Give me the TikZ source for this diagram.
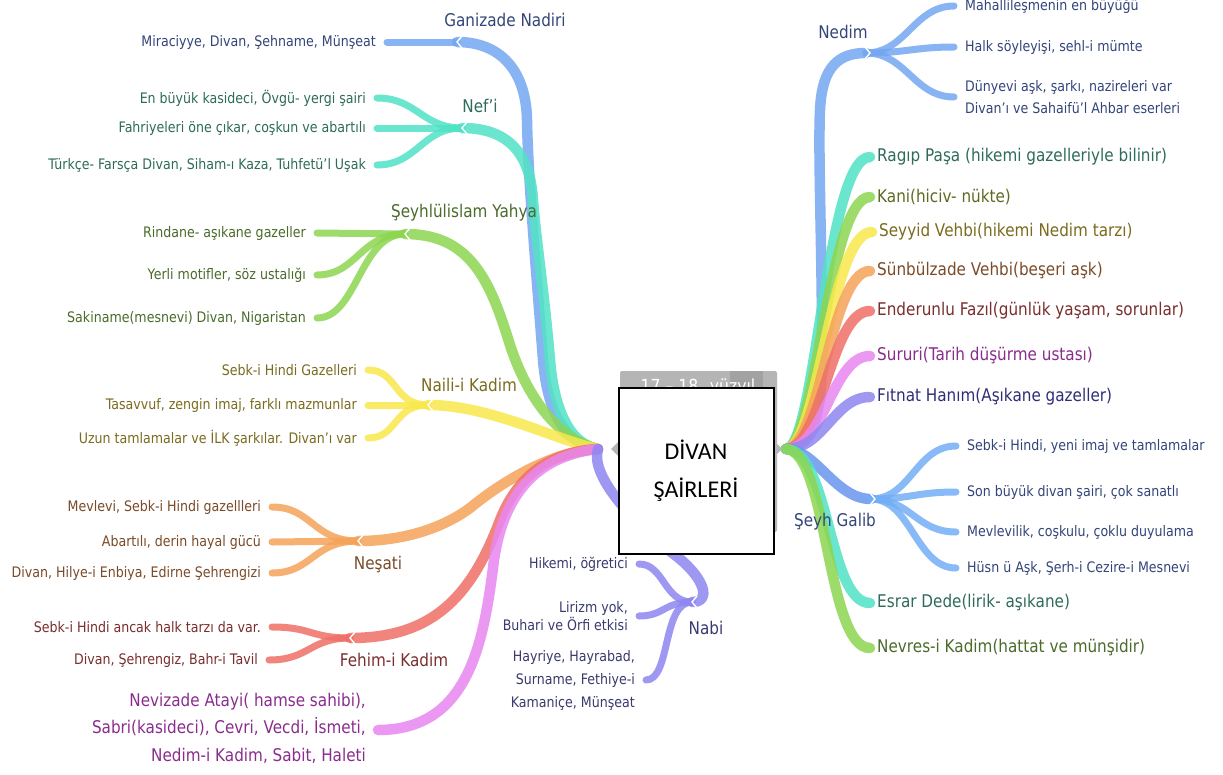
\documentclass[tikz,border=0pt]{standalone}
\usepackage{fontspec}
\setmainfont{DejaVu Sans}[FakeStretch=0.87]
\newfontfamily\boxfont{Carlito}
\pgfdeclarelayer{bg}
\pgfsetlayers{bg,main}
\definecolor{cBlue}{HTML}{74A7F2}
\definecolor{cTurq}{HTML}{52E2C6}
\definecolor{cGreen}{HTML}{8CD650}
\definecolor{cYellow}{HTML}{F8E84C}
\definecolor{cOrange}{HTML}{F5A35A}
\definecolor{cRed}{HTML}{EF7068}
\definecolor{cPink}{HTML}{E887F0}
\definecolor{cPurple}{HTML}{8F86F2}
\definecolor{cGalib}{HTML}{6A96EE}
\definecolor{cGalibL}{HTML}{72AEF5}
\definecolor{tBlue}{HTML}{34457A}
\definecolor{tTurq}{HTML}{2E6B5B}
\definecolor{tGreen}{HTML}{4B6B2B}
\definecolor{tOlive}{HTML}{5E6A22}
\definecolor{tYellow}{HTML}{7A6B1E}
\definecolor{tOrange}{HTML}{7A4B28}
\definecolor{tRed}{HTML}{7A2E2E}
\definecolor{tPink}{HTML}{8A2C8E}
\definecolor{tPurple}{HTML}{3A3A6E}
\definecolor{tFitnat}{HTML}{2E2E78}
\definecolor{boxgray}{HTML}{B5B5B5}
\definecolor{boxgrayd}{HTML}{A2A2A2}
\newcommand\leafsize{\fontsize{14.5}{18}\selectfont}
\newcommand\labsize{\fontsize{17.5}{21}\selectfont}
\begin{document}
\begin{tikzpicture}[x=1pt,y=-1pt,
  br/.style={line width=10.5pt,line cap=round,draw opacity=0.85},
  lf/.style={line width=7pt,line cap=round,draw opacity=0.85},
  leafL/.style={anchor=east,align=right,inner sep=0pt,font=\leafsize},
  leafR/.style={anchor=west,align=left,inner sep=0pt,font=\leafsize},
  labnode/.style={inner sep=0pt,font=\labsize},
  singleR/.style={anchor=west,inner sep=0pt,font=\labsize},
  notch/.style={white,line width=1.4pt}]
\useasboundingbox (0,0) rectangle (1223,774);
% junctions
\coordinate (L) at (598,449);
\coordinate (jG) at (457,42);
\coordinate (jN) at (462,128);
\coordinate (jY) at (405,234);
\coordinate (jNa) at (428,405);
\coordinate (jNe) at (358,541);
\coordinate (jF) at (350,638);
\coordinate (pEnd) at (378,730);
\coordinate (jNb) at (692,602);
\coordinate (R) at (786,449);
\coordinate (jNd) at (866,53);
\coordinate (jSg) at (871,499);
% ---------- left labels
\node[labnode,text=tBlue] (gN) at (505,20) {Ganizade Nadiri};
\node[leafL,text=tBlue] (lG) at (376,42) {Miraciyye, Divan, Şehname, Münşeat};
\node[labnode,text=tTurq] (nN) at (480,106) {Nef'i};
\node[leafL,text=tTurq] (lN1) at (366,98) {En büyük kasideci, Övgü- yergi şairi};
\node[leafL,text=tTurq] (lN2) at (366,128) {Fahriyeleri öne çıkar, coşkun ve abartılı};
\node[leafL,text=tTurq] (lN3) at (366,165) {Türkçe- Farsça Divan, Siham-ı Kaza, Tuhfetü'l Uşak};
\node[labnode,text=tGreen] (yN) at (464,213) {Şeyhlülislam Yahya};
\node[leafL,text=tGreen] (lY1) at (306,233) {Rindane- aşıkane gazeller};
\node[leafL,text=tGreen] (lY2) at (306,275) {Yerli motifler, söz ustalığı};
\node[leafL,text=tGreen] (lY3) at (306,318) {Sakiname(mesnevi) Divan, Nigaristan};
\node[labnode,text=tYellow] (naN) at (469,385) {Naili-i Kadim};
\node[leafL,text=tYellow] (lNa1) at (357,370) {Sebk-i Hindi Gazelleri};
\node[leafL,text=tYellow] (lNa2) at (357,405) {Tasavvuf, zengin imaj, farklı mazmunlar};
\node[leafL,text=tYellow] (lNa3) at (357,438) {Uzun tamlamalar ve İLK şarkılar. Divan'ı var};
\node[labnode,text=tOrange] (neN) at (378,565) {Neşati};
\node[leafL,text=tOrange] (lNe1) at (261,507) {Mevlevi, Sebk-i Hindi gazellleri};
\node[leafL,text=tOrange] (lNe2) at (261,542) {Abartılı, derin hayal gücü};
\node[leafL,text=tOrange] (lNe3) at (261,573) {Divan, Hilye-i Enbiya, Edirne Şehrengizi};
\node[labnode,text=tRed] (fN) at (394,660) {Fehim-i Kadim};
\node[leafL,text=tRed] (lF1) at (261,627) {Sebk-i Hindi ancak halk tarzı da var.};
\node[leafL,text=tRed] (lF2) at (258,660) {Divan, Şehrengiz, Bahr-i Tavil};
\node[leafL,text=tPink,font=\fontsize{17.5}{27.5}\selectfont] (pN) at (366,728) {Nevizade Atayi( hamse sahibi),\\Sabri(kasideci), Cevri, Vecdi, İsmeti,\\Nedim-i Kadim, Sabit, Haleti};
\node[labnode,text=tPurple] (nbN) at (706,628) {Nabi};
\node[leafL,text=tPurple] (lNb1) at (628,564) {Hikemi, öğretici};
\node[leafL,text=tPurple,font=\fontsize{14.5}{18.5}\selectfont] (lNb2) at (628,616) {Lirizm yok,\\Buhari ve Örfi etkisi};
\node[leafL,text=tPurple,font=\fontsize{14.5}{23}\selectfont] (lNb3) at (635,680) {Hayriye, Hayrabad,\\Surname, Fethiye-i\\Kamaniçe, Münşeat};
% ---------- right labels
\node[labnode,text=tBlue] (ndN) at (843,32) {Nedim};
\node[leafR,text=tBlue] (lNd1) at (965,6) {Mahallileşmenin en büyüğü};
\node[leafR,text=tBlue] (lNd2) at (965,47) {Halk söyleyişi, sehl-i mümte};
\node[leafR,text=tBlue,font=\fontsize{14.5}{22}\selectfont] (lNd3) at (965,97) {Dünyevi aşk, şarkı, nazireleri var\\Divan'ı ve Sahaifü'l Ahbar eserleri};
\node[singleR,text=tTurq] (sRg) at (877,157) {Ragıp Paşa (hikemi gazelleriyle bilinir)};
\node[singleR,text=tOlive] (sKa) at (877,197) {Kani(hiciv- nükte)};
\node[singleR,text=tYellow] (sSe) at (879,232) {Seyyid Vehbi(hikemi Nedim tarzı)};
\node[singleR,text=tOrange] (sSu) at (877,271) {Sünbülzade Vehbi(beşeri aşk)};
\node[singleR,text=tRed] (sEn) at (877,311) {Enderunlu Fazıl(günlük yaşam, sorunlar)};
\node[singleR,text=tPink] (sSr) at (877,356) {Sururi(Tarih düşürme ustası)};
\node[singleR,text=tFitnat] (sFi) at (877,397) {Fıtnat Hanım(Aşıkane gazeller)};
\node[labnode,text=tBlue] (sgN) at (835,522) {Şeyh Galib};
\node[leafR,text=tBlue] (g1) at (967,446) {Sebk-i Hindi, yeni imaj ve tamlamalar};
\node[leafR,text=tBlue] (g2) at (967,492) {Son büyük divan şairi, çok sanatlı};
\node[leafR,text=tBlue] (g3) at (967,532) {Mevlevilik, coşkulu, çoklu duyulama};
\node[leafR,text=tBlue] (g4) at (967,568) {Hüsn ü Aşk, Şerh-i Cezire-i Mesnevi};
\node[singleR,text=tTurq] (sEs) at (877,603) {Esrar Dede(lirik- aşıkane)};
\node[singleR,text=tGreen] (sNv) at (877,648) {Nevres-i Kadim(hattat ve münşidir)};
% ---------- branches
\begin{pgfonlayer}{bg}
\fill[white] (0,0) rectangle (1223,774);
% left main branches
\draw[br,cBlue] (L) .. controls (570,445) and (548,420) .. (543,360) .. controls (537,280) and (528,180) .. (527,120) .. controls (526,70) and (500,42) .. (jG);
\draw[br,cTurq] (L) .. controls (575,445) and (555,420) .. (550,360) .. controls (544,290) and (536,240) .. (533,200) .. controls (530,150) and (505,128) .. (jN);
\draw[br,cGreen] (L) .. controls (560,440) and (528,400) .. (510,345) .. controls (490,280) and (470,234) .. (jY);
\draw[br,cYellow] (L) .. controls (555,440) and (490,405) .. (jNa);
\draw[br,cOrange] (L) .. controls (560,450) and (510,475) .. (470,508) .. controls (440,530) and (400,541) .. (jNe);
\draw[br,cRed] (L) .. controls (555,452) and (520,470) .. (500,520) .. controls (470,600) and (430,638) .. (jF);
\draw[br,cPink] (L) .. controls (545,455) and (505,485) .. (494,560) .. controls (484,640) and (470,730) .. (pEnd);
\draw[br,cPurple] (L) .. controls (590,475) and (630,520) .. (675,555) .. controls (705,578) and (712,602) .. (jNb);
% left leaves
\draw[lf,cBlue] (jG) -- ([xshift=11pt]lG.east);
\draw[lf,cTurq] (jN) .. controls +(-40,0) and +(40,0) .. ([xshift=11pt]lN1.east);
\draw[lf,cTurq] (jN) -- ([xshift=11pt]lN2.east);
\draw[lf,cTurq] (jN) .. controls +(-40,0) and +(40,0) .. ([xshift=11pt]lN3.east);
\draw[lf,cGreen] (jY) -- ([xshift=11pt]lY1.east);
\draw[lf,cGreen] (jY) .. controls +(-45,0) and +(40,0) .. ([xshift=11pt]lY2.east);
\draw[lf,cGreen] (jY) .. controls +(-45,0) and +(40,0) .. ([xshift=11pt]lY3.east);
\draw[lf,cYellow] (jNa) .. controls +(-35,0) and +(30,0) .. ([xshift=11pt]lNa1.east);
\draw[lf,cYellow] (jNa) -- ([xshift=11pt]lNa2.east);
\draw[lf,cYellow] (jNa) .. controls +(-35,0) and +(30,0) .. ([xshift=11pt]lNa3.east);
\draw[lf,cOrange] (jNe) .. controls +(-45,0) and +(40,0) .. ([xshift=11pt]lNe1.east);
\draw[lf,cOrange] (jNe) -- ([xshift=11pt]lNe2.east);
\draw[lf,cOrange] (jNe) .. controls +(-45,0) and +(40,0) .. ([xshift=11pt]lNe3.east);
\draw[lf,cRed] (jF) .. controls +(-40,0) and +(40,0) .. ([xshift=11pt]lF1.east);
\draw[lf,cRed] (jF) .. controls +(-40,0) and +(40,0) .. ([xshift=11pt]lF2.east);
\draw[lf,cPurple] (jNb) .. controls +(-28,0) and +(25,0) .. ([xshift=11pt]lNb1.east);
\draw[lf,cPurple] (jNb) .. controls +(-28,0) and +(25,0) .. ([xshift=11pt]lNb2.east);
\draw[lf,cPurple] (jNb) .. controls +(-30,0) and +(25,0) .. ([xshift=11pt]lNb3.east);
% right branches
\draw[br,cBlue] (R) .. controls (815,445) and (822,420) .. (822,340) .. controls (822,250) and (818,150) .. (820,110) .. controls (822,65) and (840,53) .. (jNd);
\draw[br,cTurq] (R) .. controls +(30,0) and +(-44,0) .. ([xshift=-7pt]sRg.west);
\draw[br,cGreen] (R) .. controls +(30,0) and +(-42,0) .. ([xshift=-7pt]sKa.west);
\draw[br,cYellow] (R) .. controls +(32,0) and +(-42,0) .. ([xshift=-7pt]sSe.west);
\draw[br,cOrange] (R) .. controls +(34,0) and +(-40,0) .. ([xshift=-7pt]sSu.west);
\draw[br,cRed] (R) .. controls +(36,0) and +(-40,0) .. ([xshift=-7pt]sEn.west);
\draw[br,cPink] (R) .. controls +(38,0) and +(-38,0) .. ([xshift=-7pt]sSr.west);
\draw[br,cPurple] (R) .. controls +(38,0) and +(-36,0) .. ([xshift=-7pt]sFi.west);
\draw[br,cGalib] (R) .. controls +(30,0) and +(-36,0) .. (jSg);
\draw[br,cTurq] (R) .. controls +(44,2) and +(-42,0) .. ([xshift=-7pt]sEs.west);
\draw[br,cGreen] (R) .. controls +(42,2) and +(-44,0) .. ([xshift=-7pt]sNv.west);
% right leaves
\draw[lf,cBlue] (jNd) .. controls +(40,0) and +(-40,0) .. ([xshift=-11pt]lNd1.west);
\draw[lf,cBlue] (jNd) .. controls +(40,0) and +(-40,0) .. ([xshift=-11pt]lNd2.west);
\draw[lf,cBlue] (jNd) .. controls +(40,0) and +(-40,0) .. ([xshift=-11pt]lNd3.west);
\draw[lf,cGalibL] (jSg) .. controls +(40,0) and +(-40,0) .. ([xshift=-11pt]g1.west);
\draw[lf,cGalibL] (jSg) .. controls +(40,0) and +(-40,0) .. ([xshift=-11pt]g2.west);
\draw[lf,cGalibL] (jSg) .. controls +(40,0) and +(-40,0) .. ([xshift=-11pt]g3.west);
\draw[lf,cGalibL] (jSg) .. controls +(40,0) and +(-40,0) .. ([xshift=-11pt]g4.west);
% notches
\foreach \j in {jG,jN,jY,jNa,jNe,jF,jNb}{
  \draw[notch] ([shift={(5,-6)}]\j) -- (\j) -- ([shift={(5,6)}]\j);}
\foreach \j in {jNd,jSg}{
  \draw[notch] ([shift={(-1,-6)}]\j) -- ([shift={(4,0)}]\j) -- ([shift={(-1,6)}]\j);}
\end{pgfonlayer}
% ---------- centre box
\fill[boxgray,rounded corners=2pt] (620,371) rectangle (777,532);
\fill[boxgrayd] (730,371) rectangle (763,389);
\node[inner sep=0pt,text=white,font=\fontsize{18}{20}\selectfont] (yz) at (698,388) {17 – 18. yüzyıl};
\fill[boxgray] (618,442) -- (611,449) -- (618,456) -- cycle;
\fill[boxgray] (775,442) -- (782,449) -- (775,456) -- cycle;
\node[draw=black,line width=2pt,fill=white,minimum width=155pt,minimum height=166pt,inner sep=0pt,
  align=center,font=\boxfont\fontsize{24}{38}\selectfont] (center) at (696,471) {DİVAN\\ŞAİRLERİ};
\end{tikzpicture}
\end{document}
